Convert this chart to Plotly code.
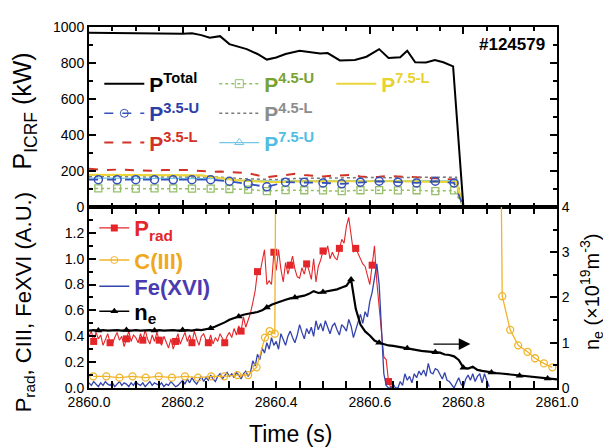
import numpy as np
import plotly.graph_objects as go

FONT = "Liberation Sans, Arial, Helvetica, sans-serif"

# ------------------------------------------------------------------
# Top panel: ICRF powers (kW)
# ------------------------------------------------------------------
t_total = [2860.000, 2860.020, 2860.060, 2860.100, 2860.140, 2860.170, 2860.200, 2860.220,
           2860.240, 2860.258, 2860.280, 2860.300, 2860.337, 2860.360, 2860.380, 2860.400,
           2860.420, 2860.450, 2860.470, 2860.494, 2860.510, 2860.536, 2860.568, 2860.593,
           2860.620, 2860.640, 2860.665, 2860.680, 2860.697, 2860.720, 2860.739, 2860.757,
           2860.778, 2860.800]
p_total = [968, 967, 965, 966, 963, 962, 962, 965, 955, 940, 949, 905, 877, 850, 819, 831,
           850, 868, 860, 853, 855, 814, 817, 835, 877, 828, 832, 868, 804, 803, 817, 804,
           781, 0]

t_u = [2860.00, 2860.02, 2860.06, 2860.10, 2860.14, 2860.18, 2860.22, 2860.26, 2860.30,
       2860.34, 2860.38, 2860.42, 2860.46, 2860.50, 2860.54, 2860.58, 2860.62, 2860.66,
       2860.70, 2860.74, 2860.78, 2860.80]
p_35u = [152, 152, 151, 152, 152, 151, 152, 152, 143, 129, 112, 138, 138, 134, 129, 138,
         143, 138, 134, 143, 134, 0]
p_45u = [103, 103, 103, 102, 103, 103, 102, 102, 100, 97, 88, 94, 93, 92, 88, 93, 94, 92,
         93, 88, 92, 0]

t_35l = [2860.00, 2860.02, 2860.04, 2860.06, 2860.08, 2860.10, 2860.12, 2860.14, 2860.16,
         2860.18, 2860.20, 2860.22, 2860.24, 2860.26, 2860.28, 2860.30, 2860.32, 2860.34,
         2860.36, 2860.38, 2860.40, 2860.42, 2860.44, 2860.46, 2860.48, 2860.50, 2860.52,
         2860.54, 2860.56, 2860.58, 2860.60, 2860.62, 2860.64, 2860.66, 2860.68, 2860.70,
         2860.72, 2860.74, 2860.76, 2860.78, 2860.80]
p_35l = [212, 207, 205, 208, 206, 207, 204, 201, 205, 207, 206, 204, 200, 196, 197, 195,
         192, 188, 176, 166, 172, 180, 184, 178, 172, 170, 174, 176, 178, 170, 166, 168,
         172, 170, 168, 166, 164, 160, 155, 153, 0]

t_l = [2860.00, 2860.04, 2860.08, 2860.12, 2860.16, 2860.20, 2860.24, 2860.28, 2860.32,
       2860.36, 2860.40, 2860.44, 2860.48, 2860.52, 2860.56, 2860.60, 2860.64, 2860.68,
       2860.72, 2860.76, 2860.785, 2860.80]
p_75l = [178, 178, 177, 178, 177, 178, 176, 160, 148, 142, 138, 142, 144, 142, 143, 141,
         143, 142, 143, 140, 138, 0]
p_45l = [168, 168, 167, 168, 168, 167, 168, 166, 158, 154, 152, 158, 160, 162, 163, 164,
         163, 165, 164, 166, 165, 0]
p_75u = [160, 160, 159, 160, 160, 159, 160, 158, 150, 146, 144, 146, 147, 146, 147, 146,
         147, 146, 147, 146, 145, 0]

# ------------------------------------------------------------------
# Bottom panel: Prad, C(III), Fe(XVI) (A.U.) and ne (1e19 m^-3)
# ------------------------------------------------------------------
prad = [0.40, 0.44, 0.36, 0.43, 0.38, 0.41, 0.33, 0.37, 0.42, 0.35,
        0.34, 0.39, 0.43, 0.37, 0.40, 0.32, 0.38, 0.44, 0.36, 0.41,
        0.39, 0.35, 0.42, 0.37, 0.45, 0.38, 0.34, 0.41, 0.36, 0.43,
        0.37, 0.33, 0.40, 0.35, 0.31, 0.38, 0.30, 0.36, 0.42, 0.34,
        0.39, 0.43, 0.36, 0.41, 0.35, 0.44, 0.38, 0.33, 0.40, 0.42,
        0.37, 0.35, 0.41, 0.34, 0.39, 0.36, 0.42, 0.38, 0.35, 0.40,
        0.43, 0.39, 0.46, 0.41, 0.48, 0.44, 0.55, 0.47, 0.52, 0.58,
        0.66, 0.75, 0.90, 0.88, 0.98, 1.07, 0.80, 0.83, 0.80, 1.05,
        0.91, 1.07, 0.92, 0.82, 0.97, 0.88, 0.95, 1.02, 0.92, 0.86,
        0.85, 0.93, 0.88, 0.96, 0.91, 0.84, 1.00, 0.82, 0.94, 0.99,
        1.06, 1.03, 1.10, 1.00, 1.05, 1.01, 0.99, 1.08, 1.15, 1.12,
        1.25, 1.32, 1.18, 1.05, 1.08, 1.04, 1.00, 0.96, 0.94, 0.88,
        0.80, 0.95, 1.10, 0.82, 0.62, 0.40, 0.24, 0.22, 0.05, 0.00]
t_prad = np.round(2860.0 + 0.005 * np.arange(len(prad)), 3)

fe16 = [0.04, 0.02, 0.05, 0.03, 0.01, 0.04, 0.02, 0.05, 0.03, 0.02,
        0.04, 0.01, 0.03, 0.05, 0.02, 0.04, 0.03, 0.01, 0.04, 0.02,
        0.05, 0.03, 0.02, 0.04, 0.01, 0.03, 0.05, 0.02, 0.04, 0.03,
        0.02, 0.04, 0.01, 0.03, 0.02, 0.05, 0.03, 0.01, 0.02, 0.04,
        0.06, 0.03, 0.07, 0.04, 0.08, 0.05, 0.03, 0.06, 0.09, 0.05,
        0.08, 0.06, 0.10, 0.07, 0.05, 0.09, 0.11, 0.07, 0.10, 0.12,
        0.09, 0.11, 0.08, 0.12, 0.10, 0.07, 0.11, 0.13, 0.09, 0.12,
        0.21, 0.17, 0.26, 0.22, 0.31, 0.27, 0.35, 0.30, 0.39, 0.33,
        0.36, 0.30, 0.42, 0.37, 0.33, 0.40, 0.44, 0.39, 0.35, 0.41,
        0.49, 0.43, 0.38, 0.46, 0.42, 0.47, 0.40, 0.52, 0.45, 0.50,
        0.44, 0.52, 0.47, 0.42, 0.48, 0.50, 0.45, 0.41, 0.49, 0.47,
        0.44, 0.53, 0.48, 0.39, 0.45, 0.52, 0.57, 0.50, 0.59, 0.55,
        0.67, 0.74, 0.86, 0.96, 0.80, 0.42, 0.11, 0.02, 0.00, 0.00,
        0.03, 0.00, 0.00, 0.05, 0.02, 0.11, 0.06, 0.09, 0.04, 0.11,
        0.08, 0.13, 0.10, 0.14, 0.09, 0.19, 0.12, 0.11, 0.15, 0.14,
        0.10, 0.07, 0.12, 0.06, 0.05, 0.02, 0.00, 0.04, 0.08, 0.03,
        0.01, 0.07, 0.10, 0.06, 0.11, 0.05, 0.09, 0.11, 0.04, 0.11, 0.06, 0.01]
t_fe16 = np.round(2860.0 + 0.005 * np.arange(len(fe16)), 3)

t_c3 = [2860.009, 2860.037, 2860.065, 2860.093, 2860.121, 2860.149, 2860.177, 2860.205,
        2860.233, 2860.261, 2860.289, 2860.317, 2860.340, 2860.358, 2860.376, 2860.386,
        2860.397, 2860.401, 2860.877, 2860.883, 2860.900, 2860.917, 2860.937, 2860.953,
        2860.972, 2860.990]
c3 = [0.09, 0.09, 0.08, 0.09, 0.08, 0.09, 0.08, 0.09, 0.08, 0.09, 0.09, 0.10, 0.10, 0.16,
      0.39, 0.44, 0.42, 3.00, 3.00, 0.71, 0.45, 0.33, 0.28, 0.23, 0.19, 0.16]

ne = [1.27, 1.28, 1.27, 1.28, 1.27, 1.28, 1.28, 1.27, 1.28, 1.27,
      1.28, 1.27, 1.28, 1.28, 1.27, 1.28, 1.27, 1.28, 1.28, 1.27,
      1.28, 1.28, 1.27, 1.29, 1.28, 1.30, 1.32, 1.36, 1.40, 1.45,
      1.51, 1.55, 1.58, 1.62, 1.64, 1.66, 1.68, 1.72, 1.78, 1.84,
      1.88, 1.92, 1.95, 1.98, 2.00, 2.02, 2.04, 2.08, 2.14, 2.10,
      2.12, 2.14, 2.16, 2.18, 2.22, 2.26, 2.40, 1.75, 1.40, 1.25,
      1.16, 1.05, 1.00, 0.97, 0.94, 0.93, 0.91, 0.90, 0.88, 0.86,
      0.83, 0.82, 0.81, 0.80, 0.79, 0.78, 0.74, 0.73, 0.70, 0.62,
      0.45, 0.43, 0.47, 0.40, 0.38, 0.36, 0.34, 0.33, 0.32, 0.31,
      0.29, 0.28, 0.27, 0.26, 0.25, 0.24, 0.23, 0.22, 0.21, 0.20, 0.19]
t_ne = np.round(2860.0 + 0.01 * np.arange(len(ne)), 3)

# ------------------------------------------------------------------
C_BLK = "#000000"
C_35U, C_35U_T = "#3552b8", "#2a3ea8"
C_35L = "#d23226"
C_45U, C_45U_T = "#96c068", "#78a232"
C_45L, C_45L_T = "#7a7a7a", "#8c8c8c"
C_75U, C_75U_T = "#72c8e6", "#52bce2"
C_75L, C_75L_T = "#e9d63a", "#e8d22e"
C_PRAD = "#e4262a"
C_C3, C_C3_T = "#f0b42a", "#f0a81e"
C_FE, C_FE_T = "#3444ac", "#4a3cae"

fig = go.Figure()


def dummy(name, legend, **kw):
    return go.Scatter(x=[None], y=[None], xaxis="x2", yaxis="y2", name=name,
                      legend=legend, showlegend=True, hoverinfo="skip", **kw)


def lab(txt, sup, color):
    return f'<b><span style="color:{color}">{txt}<sup>{sup}</sup></span></b>'


# ---- top panel traces ----
fig.add_trace(go.Scatter(x=t_35l, y=p_35l, mode="lines", xaxis="x", yaxis="y", showlegend=False,
                         line=dict(color=C_35L, width=2, dash="dash")))
fig.add_trace(go.Scatter(x=t_l, y=p_45l, mode="lines", xaxis="x", yaxis="y", showlegend=False,
                         line=dict(color=C_45L, width=1.5, dash="dot")))
fig.add_trace(go.Scatter(x=t_l, y=p_75u, mode="lines", xaxis="x", yaxis="y", showlegend=False,
                         line=dict(color=C_75U, width=1.2)))
fig.add_trace(go.Scatter(x=t_u, y=p_45u, mode="lines", xaxis="x", yaxis="y", showlegend=False,
                         line=dict(color=C_45U, width=1.5, dash="dot")))
fig.add_trace(go.Scatter(x=t_u[1:-1], y=p_45u[1:-1], mode="markers", xaxis="x", yaxis="y",
                         showlegend=False,
                         marker=dict(symbol="square-open", size=7, color=C_45U, line=dict(width=1.3))))
fig.add_trace(go.Scatter(x=t_l, y=p_75l, mode="lines", xaxis="x", yaxis="y", showlegend=False,
                         line=dict(color=C_75L, width=2.2)))
fig.add_trace(go.Scatter(x=t_u, y=p_35u, mode="lines", xaxis="x", yaxis="y", showlegend=False,
                         line=dict(color=C_35U, width=1.8, dash="dash")))
fig.add_trace(go.Scatter(x=t_u[1:-1], y=p_35u[1:-1], mode="markers", xaxis="x", yaxis="y",
                         showlegend=False,
                         marker=dict(symbol="circle-open", size=8, color=C_35U, line=dict(width=1.5))))
fig.add_trace(go.Scatter(x=t_total, y=p_total, mode="lines", xaxis="x", yaxis="y", showlegend=False,
                         line=dict(color=C_BLK, width=2)))

# ---- top panel legend entries (one legend each, arranged in 3 columns) ----
fig.add_trace(dummy(lab("P", "Total", C_BLK), "legend", mode="lines",
                    line=dict(color=C_BLK, width=2)))
fig.add_trace(dummy(lab("P", "3.5-U", C_35U_T), "legend2", mode="lines+markers",
                    line=dict(color=C_35U, width=1.5, dash="dash"),
                    marker=dict(symbol="circle-open", size=8, color=C_35U)))
fig.add_trace(dummy(lab("P", "3.5-L", C_35L), "legend3", mode="lines",
                    line=dict(color=C_35L, width=2, dash="dash")))
fig.add_trace(dummy(lab("P", "4.5-U", C_45U_T), "legend4", mode="lines+markers",
                    line=dict(color=C_45U, width=1.5, dash="dot"),
                    marker=dict(symbol="square-open", size=8, color=C_45U)))
fig.add_trace(dummy(lab("P", "4.5-L", C_45L_T), "legend5", mode="lines",
                    line=dict(color=C_45L, width=1.5, dash="dot")))
fig.add_trace(dummy(lab("P", "7.5-U", C_75U_T), "legend6", mode="lines+markers",
                    line=dict(color=C_75U, width=1.2),
                    marker=dict(symbol="triangle-up-open", size=8, color=C_75U)))
fig.add_trace(dummy(lab("P", "7.5-L", C_75L_T), "legend7", mode="lines",
                    line=dict(color=C_75L, width=2)))

# ---- bottom panel traces ----
fig.add_trace(go.Scatter(x=t_prad, y=prad, mode="lines", xaxis="x2", yaxis="y2", showlegend=False,
                         line=dict(color=C_PRAD, width=1.1)))
fig.add_trace(go.Scatter(x=t_prad[2::7], y=prad[2::7], mode="markers", xaxis="x2", yaxis="y2",
                         showlegend=False, marker=dict(symbol="square", size=7, color=C_PRAD)))
fig.add_trace(go.Scatter(x=t_fe16, y=fe16, mode="lines", xaxis="x2", yaxis="y2", showlegend=False,
                         line=dict(color=C_FE, width=1.3)))
fig.add_trace(go.Scatter(x=t_c3, y=c3, mode="lines+markers", xaxis="x2", yaxis="y2", showlegend=False,
                         line=dict(color=C_C3, width=1.3),
                         marker=dict(symbol="circle-open", size=7, color=C_C3, line=dict(width=1.3))))
fig.add_trace(go.Scatter(x=t_ne, y=ne, mode="lines", xaxis="x2", yaxis="y3", showlegend=False,
                         line=dict(color=C_BLK, width=2.2)))
fig.add_trace(go.Scatter(x=t_ne[2::6], y=ne[2::6], mode="markers", xaxis="x2", yaxis="y3",
                         showlegend=False, marker=dict(symbol="triangle-up", size=7, color=C_BLK)))

# ---- bottom legend entries ----
fig.add_trace(dummy(f'<b><span style="color:{C_PRAD}">P<sub>rad</sub></span></b>', "legend8",
                    mode="lines+markers", line=dict(color=C_PRAD, width=1.3),
                    marker=dict(symbol="square", size=7, color=C_PRAD)))
fig.add_trace(dummy(f'<b><span style="color:{C_C3_T}">C(III)</span></b>', "legend9",
                    mode="lines+markers", line=dict(color=C_C3, width=1.3),
                    marker=dict(symbol="circle-open", size=7, color=C_C3)))
fig.add_trace(dummy(f'<b><span style="color:{C_FE_T}">Fe(XVI)</span></b>', "legend10",
                    mode="lines", line=dict(color=C_FE, width=1.5)))
fig.add_trace(dummy('<b>n<sub>e</sub></b>', "legend11",
                    mode="lines+markers", line=dict(color=C_BLK, width=1.5),
                    marker=dict(symbol="triangle-up", size=7, color=C_BLK)))

# ------------------------------------------------------------------
tickfont = dict(family=FONT, size=14, color="black")
minor_common = dict(ticks="inside", ticklen=4, tickwidth=1.5, tickcolor="black", showgrid=False)
axis_common = dict(ticks="inside", ticklen=7, tickwidth=1.6, tickcolor="black", showline=True,
                   linecolor="black", linewidth=2, showgrid=False, zeroline=False,
                   tickfont=tickfont)


def leg(x, y, size, iw):
    return dict(x=x, y=y, xanchor="left", yanchor="middle", bgcolor="rgba(0,0,0,0)",
                font=dict(family=FONT, size=size, color="black"), itemwidth=iw,
                traceorder="normal")


split = 0.5014
# the page body adds an 8px offset, so the figure is 8px smaller than the window
fig.update_layout(
    width=603, height=440,
    margin=dict(l=81, r=54, t=11, b=60),
    paper_bgcolor="white", plot_bgcolor="white",
    font=dict(family=FONT, color="black"),
    xaxis=dict(range=[2860, 2861], tick0=2860, dtick=0.2, anchor="y", matches="x2",
               showticklabels=False, mirror="allticks",
               minor=dict(dtick=0.05, **minor_common), **axis_common),
    yaxis=dict(domain=[split, 1], range=[0, 1000], dtick=200, anchor="x", mirror="allticks",
               minor=dict(dtick=100, **minor_common), **axis_common),
    xaxis2=dict(range=[2860, 2861], tick0=2860, dtick=0.2, anchor="y2", tickformat=".1f",
                mirror="allticks", minor=dict(dtick=0.05, **minor_common), **axis_common),
    yaxis2=dict(domain=[0, split], range=[0, 1.4], tickvals=[0, 0.2, 0.4, 0.6, 0.8, 1.0, 1.2],
                tickformat=".1f", anchor="x2", mirror=True,
                minor=dict(dtick=0.1, **minor_common), **axis_common),
    yaxis3=dict(range=[0, 4], dtick=1, overlaying="y2", side="right", anchor="x2",
                minor=dict(dtick=0.5, **minor_common), **axis_common),
    legend=leg(0.022, 0.842, 21, 40),
    legend2=leg(0.022, 0.760, 21, 40),
    legend3=leg(0.022, 0.679, 21, 40),
    legend4=leg(0.2677, 0.842, 21, 40),
    legend5=leg(0.2677, 0.760, 21, 40),
    legend6=leg(0.2677, 0.679, 21, 40),
    legend7=leg(0.5177, 0.842, 21, 40),
    legend8=leg(0.0113, 0.443, 22, 30),
    legend9=leg(0.0113, 0.354, 22, 30),
    legend10=leg(0.0113, 0.281, 22, 30),
    legend11=leg(0.0113, 0.212, 22, 30),
)

annotations = [
    dict(text="<b>#124579</b>", x=0.979, y=0.951, xref="paper", yref="paper",
         xanchor="right", yanchor="middle", showarrow=False,
         font=dict(family=FONT, size=17, color="black")),
    dict(text="P<sub>ICRF</sub> (kW)", x=-0.138, y=0.767, xref="paper", yref="paper",
         xanchor="center", yanchor="middle", textangle=-90, showarrow=False,
         font=dict(family=FONT, size=25, color="black")),
    dict(text="P<sub>rad</sub>, CIII, FeXVI (A.U.)", x=-0.138, y=0.2385, xref="paper",
         yref="paper", xanchor="center", yanchor="middle", textangle=-90, showarrow=False,
         font=dict(family=FONT, size=22, color="black")),
    dict(text="n<sub>e</sub> (×10<sup>19</sup>m<sup>-3</sup>)", x=1.075, y=0.266,
         xref="paper", yref="paper", xanchor="center", yanchor="middle", textangle=-90,
         showarrow=False, font=dict(family=FONT, size=20, color="black")),
    dict(text="Time (s)", x=0.43, y=-0.127, xref="paper", yref="paper",
         xanchor="center", yanchor="middle", showarrow=False,
         font=dict(family=FONT, size=23, color="black")),
    dict(text="", x=2860.815, y=0.97, xref="x2", yref="y3", ax=2860.733, ay=0.97,
         axref="x2", ayref="y3", showarrow=True, arrowhead=2, arrowsize=1.8,
         arrowwidth=1.3, arrowcolor="black"),
]
fig.update_layout(annotations=annotations)

fig.write_html("out.html")
